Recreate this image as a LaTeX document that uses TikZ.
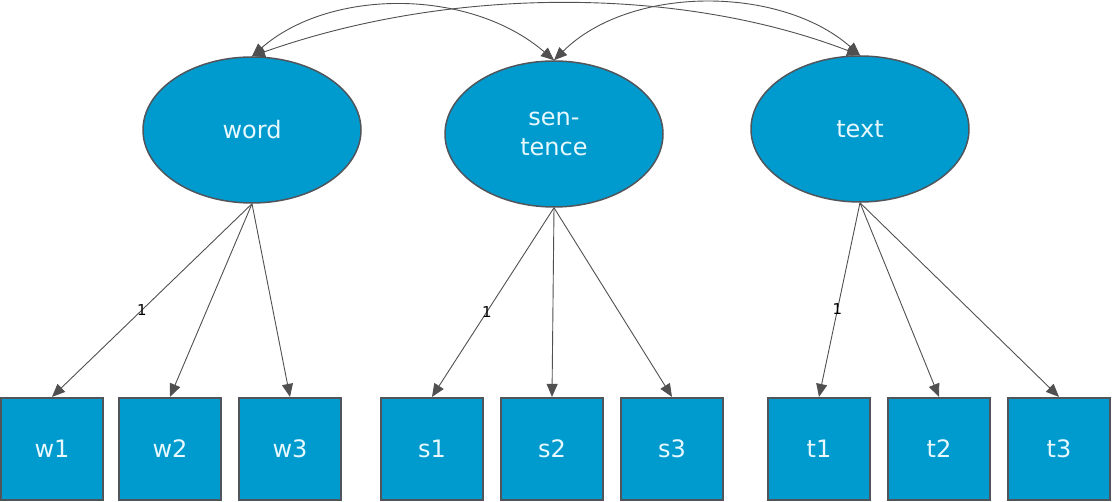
\documentclass[tikz,border=0pt]{standalone}
\usepackage{fontspec}
\setmainfont{DejaVu Sans}
\usetikzlibrary{shapes.geometric,arrows.meta}
\definecolor{nodefill}{RGB}{0,155,206}
\definecolor{nodeline}{RGB}{80,85,92}
\definecolor{edgecol}{RGB}{80,80,80}
\definecolor{txtcol}{RGB}{232,248,255}
\tikzset{
  latent/.style={ellipse, draw=nodeline, fill=nodefill, line width=1.5pt, minimum width=218pt, minimum height=146pt, inner sep=0pt, text=txtcol, font=\fontsize{24}{30}\selectfont, align=center},
  manifest/.style={rectangle, draw=nodeline, fill=nodefill, line width=2.2pt, minimum width=102pt, minimum height=102pt, inner sep=0pt, text=txtcol, font=\fontsize{24}{28}\selectfont},
  load/.style={draw=edgecol, line width=0.9pt, -{Triangle[length=13pt,width=11pt]}},
  cov/.style={draw=edgecol, line width=0.9pt, {Triangle[length=13pt,width=11pt]}-{Triangle[length=13pt,width=11pt]}},
  lbl/.style={font=\fontsize{15}{16}\selectfont, text=black, inner sep=0pt}
}
\begin{document}
\begin{tikzpicture}[x=1pt,y=-1pt]
\useasboundingbox (0,0) rectangle (1112,502);
\node[latent] (word) at (252,130) {word};
\node[latent] (sent) at (554,134) {sen-\\tence};
\node[latent] (text) at (860,129) {text};
\node[manifest] (w1) at (52,449) {w1};
\node[manifest] (w2) at (170,449) {w2};
\node[manifest] (w3) at (290,449) {w3};
\node[manifest] (s1) at (432,449) {s1};
\node[manifest] (s2) at (552,449) {s2};
\node[manifest] (s3) at (672,449) {s3};
\node[manifest] (t1) at (819,449) {t1};
\node[manifest] (t2) at (939,449) {t2};
\node[manifest] (t3) at (1059,449) {t3};
\draw[load] (word.south) -- node[lbl,pos=0.55] {1} (w1.north);
\draw[load] (word.south) -- (w2.north);
\draw[load] (word.south) -- (w3.north);
\draw[load] (sent.south) -- node[lbl,pos=0.55] {1} (s1.north);
\draw[load] (sent.south) -- (s2.north);
\draw[load] (sent.south) -- (s3.north);
\draw[load] (text.south) -- node[lbl,pos=0.55] {1} (t1.north);
\draw[load] (text.south) -- (t2.north);
\draw[load] (text.south) -- (t3.north);
\draw[cov] (word.north) .. controls (330,-12) and (470,-12) .. (sent.north);
\draw[cov] (word.north) .. controls (450,-14) and (680,-14) .. (text.north);
\draw[cov] (sent.north) .. controls (630,-15) and (780,-15) .. (text.north);
\end{tikzpicture}
\end{document}
